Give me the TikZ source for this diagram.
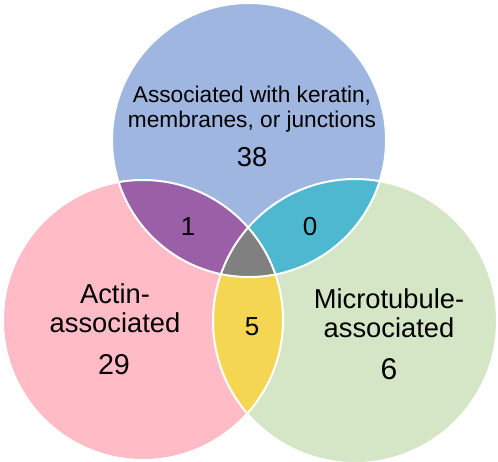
\documentclass[tikz,border=0pt]{standalone}
\usepackage{fontspec}
\setmainfont{Liberation Sans}
\usetikzlibrary{positioning}
\definecolor{keratinblue}{HTML}{9FB6E0}
\definecolor{actinpink}{HTML}{FFBBC6}
\definecolor{tubulegreen}{HTML}{D4E6C6}
\definecolor{kapurple}{HTML}{9B5FA8}
\definecolor{ktteal}{HTML}{4EB8D1}
\definecolor{atyellow}{HTML}{F4D653}
\definecolor{allgrey}{HTML}{808080}
\newcommand{\keratinset}{(keratin) circle[radius=137]}
\newcommand{\actinset}{(actin) circle[radius=140]}
\newcommand{\tubuleset}{(tubule) circle[radius=142]}
\tikzset{
  setlabel/.style={align=center, inner sep=0pt, font=\fontsize{20.5}{22}\selectfont},
  toplabel/.style={align=center, inner sep=0pt, font=\fontsize{17}{19}\selectfont},
  countlabel/.style={inner sep=0pt, font=\fontsize{19.5}{21}\selectfont},
  vennline/.style={draw=white, line width=1.5pt}
}

\begin{document}
\begin{tikzpicture}[x=0.75pt, y=-0.75pt]
\useasboundingbox (0,0) rectangle (498,461);
\coordinate (keratin) at (249,140);
\coordinate (actin) at (143,320);
\coordinate (tubule) at (355,321);
% single sets
\fill[keratinblue] \keratinset;
\fill[actinpink] \actinset;
\fill[tubulegreen] \tubuleset;
% pairwise overlaps
\begin{scope}
\clip \keratinset;
\fill[kapurple] \actinset;
\fill[ktteal] \tubuleset;
\end{scope}
\begin{scope}
\clip \actinset;
\fill[atyellow] \tubuleset;
\end{scope}
% all three
\begin{scope}
\clip \keratinset;
\clip \actinset;
\fill[allgrey] \tubuleset;
\end{scope}
\path[vennline] \keratinset;
\path[vennline] \actinset;
\path[vennline] \tubuleset;
% labels
\node[toplabel] (keratinlbl) at (252,109) {Associated with keratin,\\membranes, or junctions};
\node[countlabel, font=\fontsize{20.5}{22}\selectfont] (keratinnum) at (252,157) {38};
\node[setlabel] (actinlbl) at (115,308) {Actin-\\associated};
\node[countlabel, font=\fontsize{21.5}{23}\selectfont] (actinnum) at (114,365) {29};
\node[setlabel] (tubulelbl) at (389,313) {Microtubule-\\associated};
\node[countlabel, font=\fontsize{22.5}{24}\selectfont] (tubulenum) at (389,369) {6};
\node[countlabel] (kanum) at (188,227) {1};
\node[countlabel] (ktnum) at (310,227) {0};
\node[countlabel] (atnum) at (252,327) {5};
\end{tikzpicture}
\end{document}
